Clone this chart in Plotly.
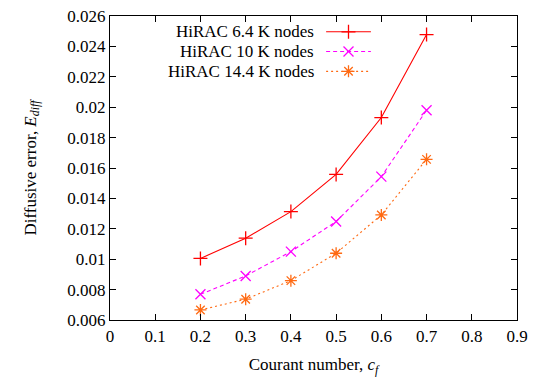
import plotly.graph_objects as go

courant = [0.2, 0.3, 0.4, 0.5, 0.6, 0.7]
err_6k4 = [0.01005, 0.01138, 0.01313, 0.01558, 0.01932, 0.02478]
err_10k = [0.00769, 0.00890, 0.01050, 0.01248, 0.01543, 0.01980]
err_14k4 = [0.00666, 0.00737, 0.00859, 0.01039, 0.01291, 0.01657]
labels = ["HiRAC 6.4 K nodes", "HiRAC 10 K nodes", "HiRAC 14.4 K nodes"]
x_ticks = [0, 0.1, 0.2, 0.3, 0.4, 0.5, 0.6, 0.7, 0.8, 0.9]
x_tick_text = ["0", "0.1", "0.2", "0.3", "0.4", "0.5", "0.6", "0.7", "0.8", "0.9"]
y_ticks = [0.006, 0.008, 0.010, 0.012, 0.014, 0.016, 0.018, 0.020, 0.022, 0.024, 0.026]
y_tick_text = ["0.006", "0.008", "0.01", "0.012", "0.014", "0.016", "0.018",
               "0.02", "0.022", "0.024", "0.026"]
colors = ["#ff0000", "#ff00ff", "#ff6a13"]
dashes = ["solid", "4px,3px", "2px,3px"]
symbols = ["cross-thin-open", "x-thin-open", "asterisk-open"]
series = [err_6k4, err_10k, err_14k4]

FONT = "Liberation Serif"
fig = go.Figure()
for s, lab, c, d, sym in zip(series, labels, colors, dashes, symbols):
    fig.add_trace(go.Scatter(
        x=courant, y=s, mode="lines+markers", name=lab,
        line=dict(color=c, width=1.1, dash=d),
        marker=dict(symbol=sym, size=10, color=c, line=dict(color=c, width=1.3)),
        showlegend=False))

# gnuplot-style legend (text left, sample right) on an overlay axis in [0,1]
leg_y = [0.948, 0.883, 0.818]
for lab, c, d, sym, yy in zip(labels, colors, dashes, symbols, leg_y):
    fig.add_trace(go.Scatter(
        x=[0.531, 0.641], y=[yy, yy], mode="lines", xaxis="x2", yaxis="y2",
        line=dict(color=c, width=1.1, dash=d), showlegend=False, hoverinfo="skip"))
    fig.add_trace(go.Scatter(
        x=[0.586], y=[yy], mode="markers", xaxis="x2", yaxis="y2",
        marker=dict(symbol=sym, size=10, color=c, line=dict(color=c, width=1.3)),
        showlegend=False, hoverinfo="skip"))
    fig.add_annotation(x=0.505, y=yy, xref="x2", yref="y2", text=lab,
                       showarrow=False, xanchor="right", yanchor="middle",
                       font=dict(family=FONT, size=17, color="black"))

axis_common = dict(showline=True, linecolor="black", linewidth=1.3, mirror="ticks",
                   ticks="inside", ticklen=6, tickcolor="black", tickwidth=1,
                   showgrid=False, zeroline=False, automargin=False,
                   tickfont=dict(family=FONT, size=17, color="black"))

fig.update_layout(
    width=537, height=377,
    margin=dict(l=110, r=20, t=16, b=57),
    paper_bgcolor="white", plot_bgcolor="white",
    xaxis=dict(range=[0, 0.9], tickmode="array", tickvals=x_ticks, ticktext=x_tick_text,
               tickangle=0,
               title=dict(text="Courant number, <i>c</i><sub><i>f</i></sub>",
                          font=dict(family=FONT, size=17, color="black"), standoff=15),
               **axis_common),
    yaxis=dict(range=[0.006, 0.026], tickmode="array", tickvals=y_ticks, ticktext=y_tick_text,
               title=dict(text="Diffusive error, <i>E</i><sub><i>diff</i></sub>",
                          font=dict(family=FONT, size=17, color="black"), standoff=26),
               **axis_common),
    xaxis2=dict(range=[0, 1], overlaying="x", visible=False, fixedrange=True),
    yaxis2=dict(range=[0, 1], overlaying="y", visible=False, fixedrange=True),
    font=dict(family=FONT, size=17, color="black"),
)

fig.write_html("out.html")
